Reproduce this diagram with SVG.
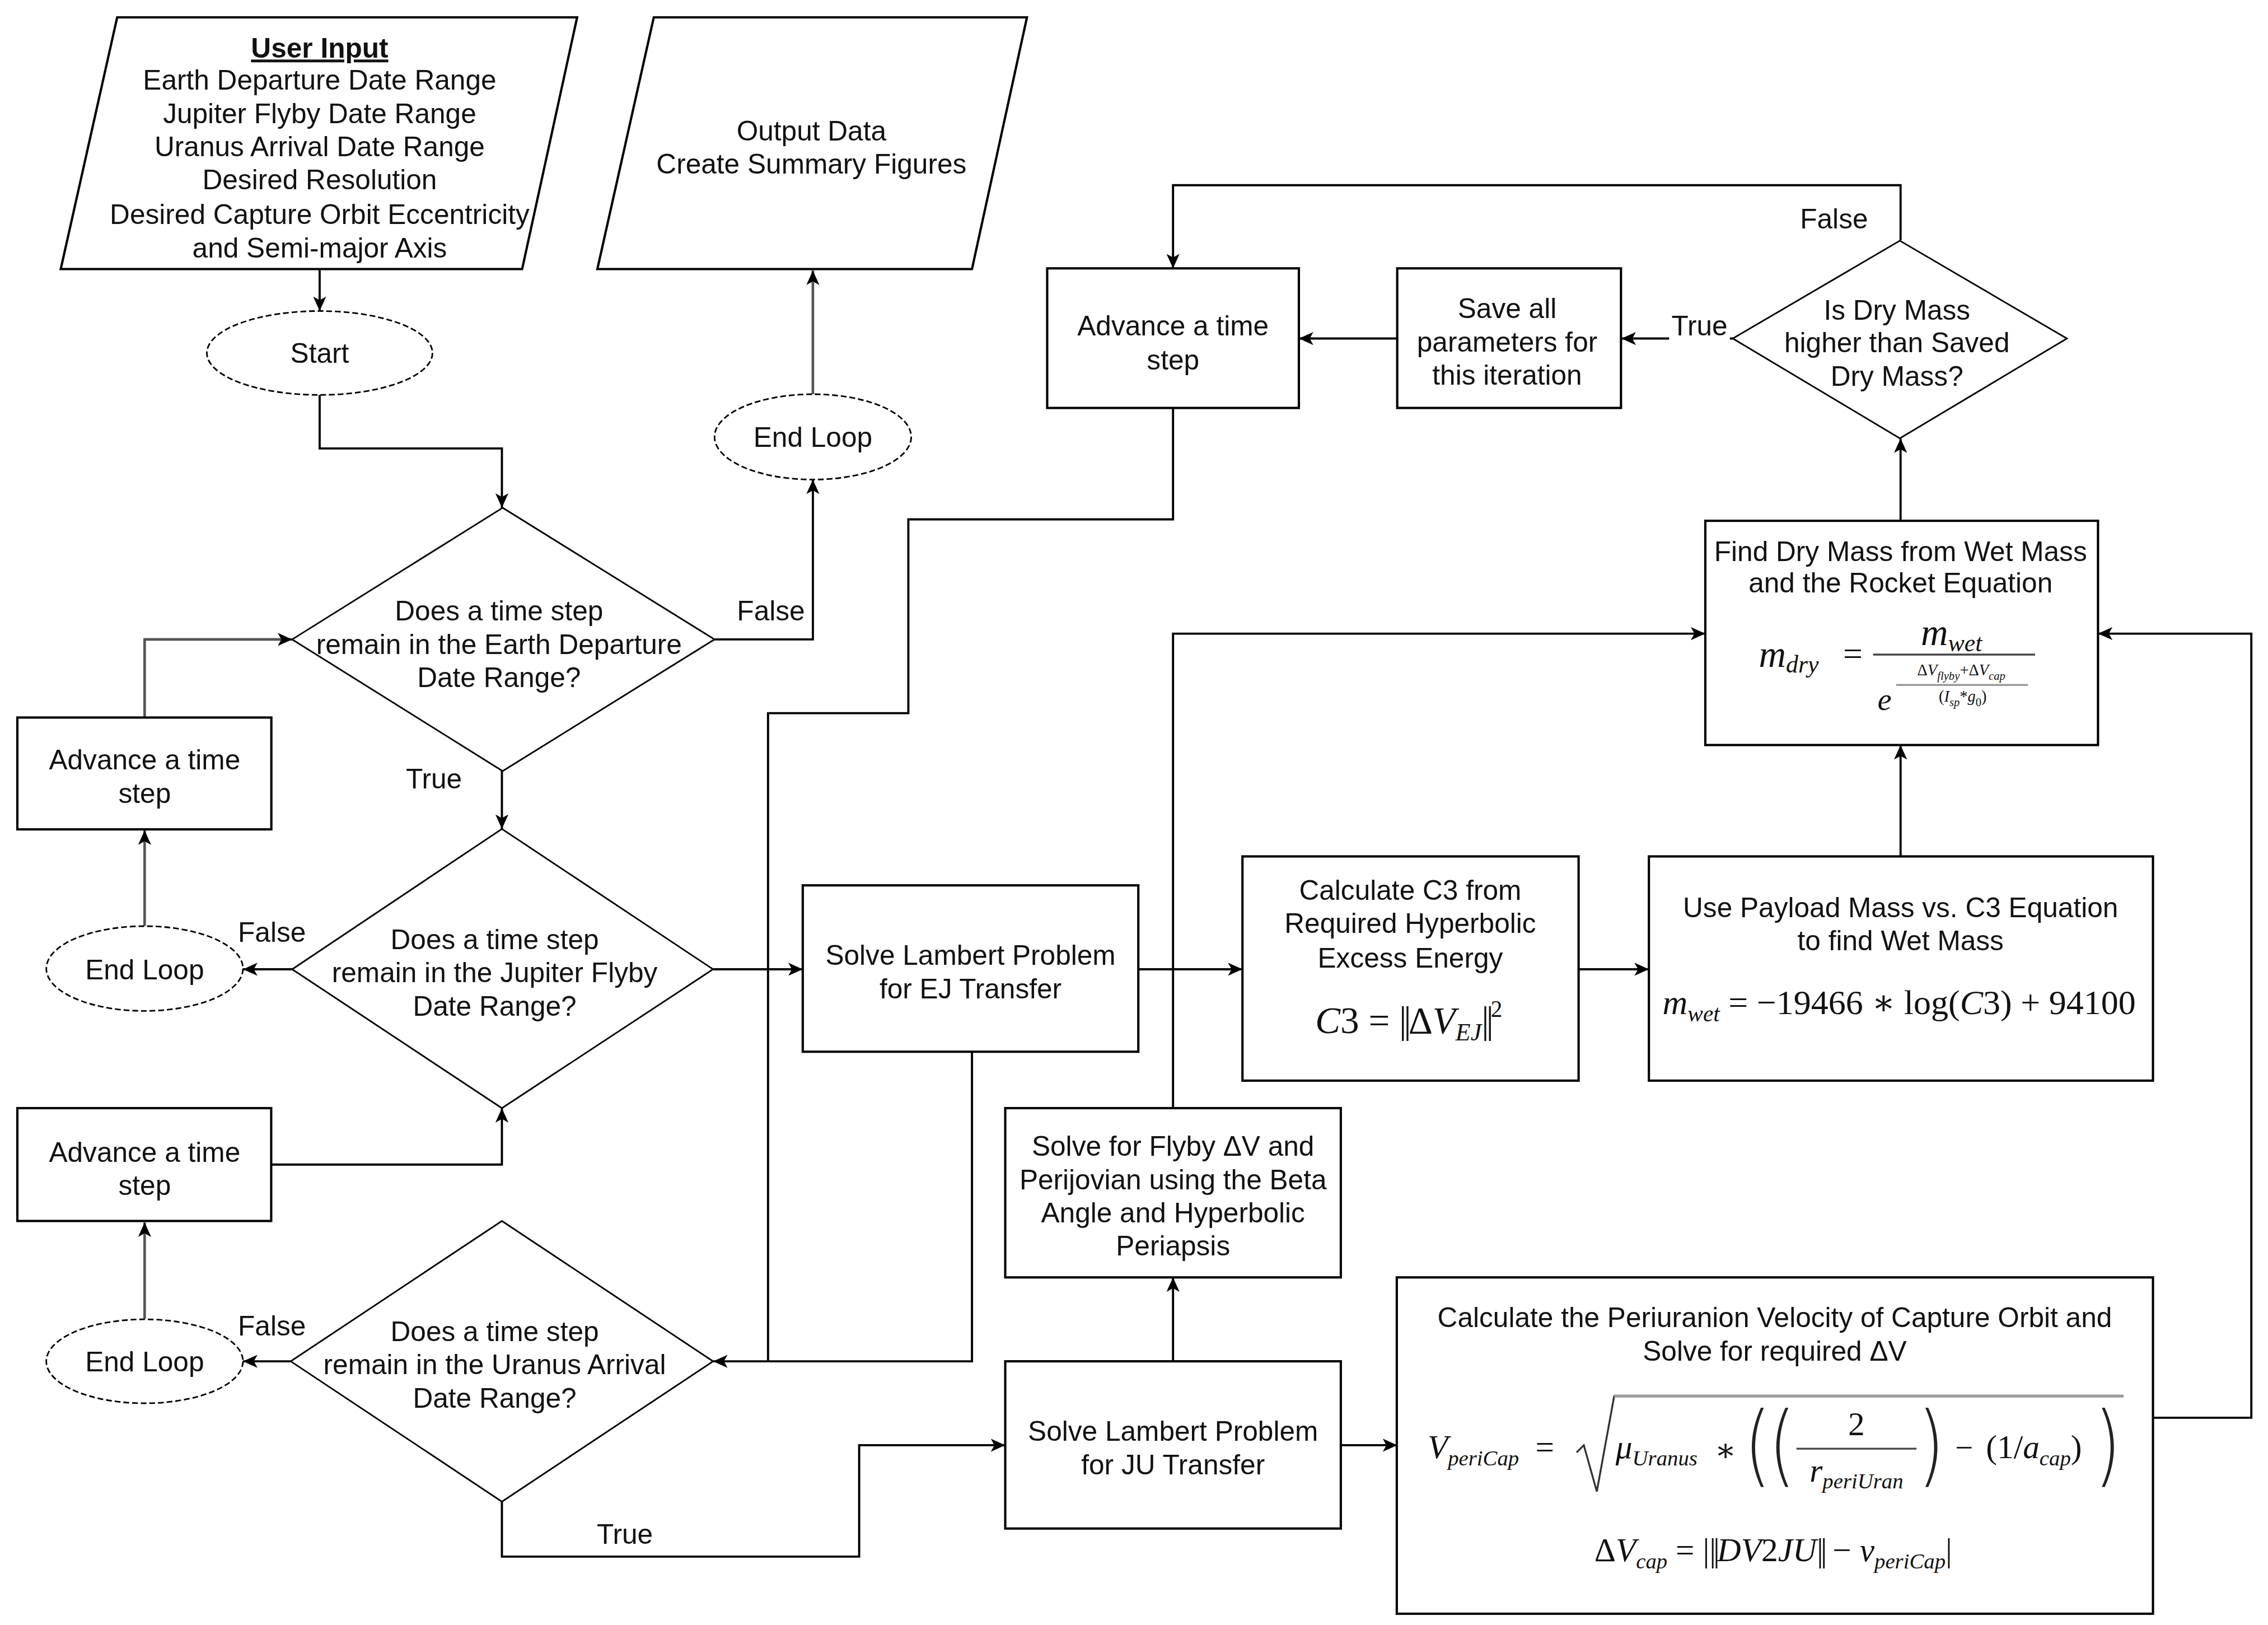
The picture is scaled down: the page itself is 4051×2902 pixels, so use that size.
<svg xmlns="http://www.w3.org/2000/svg" width="4051" height="2902" viewBox="0 0 4051 2902">
<style>
.box{fill:#fff;stroke:#000;stroke-width:1.6}
.dia{fill:#fff;stroke:#000;stroke-width:1.1}
.ell{fill:#fff;stroke:#000;stroke-width:1.1;stroke-dasharray:4 2}
.t{font-family:"Liberation Sans",Arial,sans-serif;font-size:19.2px;fill:#111;text-anchor:middle}
.m{font-family:"Liberation Serif","DejaVu Serif","Times New Roman",serif;fill:#111}
.i{font-style:italic}
.p{font-family:"DejaVu Sans",sans-serif;font-weight:200;font-size:36px;fill:#222}
.c{fill:none;stroke:#000;stroke-width:1.5}
.g{stroke:#555;stroke-width:1.8}
.bg{fill:#fff}
.bar{stroke:#444;stroke-width:1.3;fill:none}
</style>
<defs>
<marker id="a" viewBox="0 0 10 10" refX="10" refY="5" markerWidth="10" markerHeight="10" markerUnits="userSpaceOnUse" orient="auto">
<path d="M0,0.5 L10,5 L0,9.5 L2.5,5 Z" fill="#000"/>
</marker>
</defs>
<rect width="4051" height="2902" fill="#fff"/>
<g transform="scale(2.5835)">
<g id="connectors">
<path class="c" d="M221,186 L221,215" marker-end="url(#a)"/>
<path class="c" d="M221,273 L221,310 L347,310 L347,351" marker-end="url(#a)"/>
<path class="c" d="M494,442 L562,442 L562,331.5" marker-end="url(#a)"/>
<path class="c g" d="M562,272.5 L562,187" marker-end="url(#a)"/>
<path class="c" d="M347,533 L347,573" marker-end="url(#a)"/>
<path class="c" d="M202,670 L168,670" marker-end="url(#a)"/>
<path class="c g" d="M100,640 L100,574" marker-end="url(#a)"/>
<path class="c g" d="M100,496 L100,442 L202,442" marker-end="url(#a)"/>
<path class="c" d="M493,670 L555,670" marker-end="url(#a)"/>
<path class="c" d="M787,670 L859,670" marker-end="url(#a)"/>
<path class="c" d="M1091,670 L1140,670" marker-end="url(#a)"/>
<path class="c" d="M1314,592 L1314,515" marker-end="url(#a)"/>
<path class="c" d="M1314,360 L1314,303" marker-end="url(#a)"/>
<path class="c" d="M1198,234 L1121,234" marker-end="url(#a)"/>
<path class="c" d="M966,234 L898,234" marker-end="url(#a)"/>
<path class="c" d="M1314,166 L1314,128 L811,128 L811,185.5" marker-end="url(#a)"/>
<path class="c" d="M811,282 L811,359 L628,359 L628,493 L531,493 L531,941 L493,941" marker-end="url(#a)"/>
<path class="c" d="M672,727 L672,941 L531,941"/>
<path class="c" d="M201,941 L168,941" marker-end="url(#a)"/>
<path class="c g" d="M100,911.6 L100,845" marker-end="url(#a)"/>
<path class="c" d="M187.5,805 L347,805 L347,766" marker-end="url(#a)"/>
<path class="c" d="M347,1038 L347,1076 L594,1076 L594,999 L695,999" marker-end="url(#a)"/>
<path class="c" d="M811,941 L811,883" marker-end="url(#a)"/>
<path class="c" d="M811,766 L811,438 L1179,438" marker-end="url(#a)"/>
<path class="c" d="M927,999 L966,999" marker-end="url(#a)"/>
<path class="c" d="M1488.5,980 L1556.5,980 L1556.5,438 L1450.5,438" marker-end="url(#a)"/>
<rect class="bg" x="508" y="411" width="50" height="22"/><text class="t" x="533" y="429">False</text>
<rect class="bg" x="279" y="527" width="42" height="22"/><text class="t" x="300" y="545">True</text>
<rect class="bg" x="163" y="633" width="50" height="22"/><text class="t" x="188" y="651">False</text>
<rect class="bg" x="163" y="905" width="50" height="22"/><text class="t" x="188" y="923">False</text>
<rect class="bg" x="411" y="1049" width="42" height="22"/><text class="t" x="432" y="1067">True</text>
<rect class="bg" x="1154" y="214" width="42" height="22"/><text class="t" x="1175" y="232">True</text>
<rect class="bg" x="1243" y="140" width="50" height="22"/><text class="t" x="1268" y="158">False</text>
</g>
<g id="user-input">
<polygon class="box" points="81,12 399,12 361,186 42,186"/>
<text class="t" x="221" y="40" font-weight="bold" text-decoration="underline">User Input</text>
<text class="t" x="221" y="62">Earth Departure Date Range</text>
<text class="t" x="221" y="85">Jupiter Flyby Date Range</text>
<text class="t" x="221" y="108">Uranus Arrival Date Range</text>
<text class="t" x="221" y="131">Desired Resolution</text>
<text class="t" x="221" y="155">Desired Capture Orbit Eccentricity</text>
<text class="t" x="221" y="178">and Semi-major Axis</text>
</g>
<g id="output">
<polygon class="box" points="452,12 710,12 672,186 413,186"/>
<text class="t" x="561" y="97">Output Data</text>
<text class="t" x="561" y="120">Create Summary Figures</text>
</g>
<g id="start">
<ellipse class="ell" cx="221" cy="244" rx="78" ry="29"/>
<text class="t" x="221" y="251">Start</text>
</g>
<g id="end-loop-top">
<ellipse class="ell" cx="562" cy="302" rx="68" ry="29.5"/>
<text class="t" x="562" y="309">End Loop</text>
</g>
<g id="earth-decision">
<polygon class="dia" points="347.5,351 494,442 347.5,533 202,442"/>
<text class="t" x="345" y="429">Does a time step</text>
<text class="t" x="345" y="452">remain in the Earth Departure</text>
<text class="t" x="345" y="475">Date Range?</text>
</g>
<g id="advance-1">
<rect class="box" x="12" y="496" width="175.6" height="77.3"/>
<text class="t" x="100" y="532">Advance a time</text>
<text class="t" x="100" y="555">step</text>
</g>
<g id="jupiter-decision">
<polygon class="dia" points="347,573 493,670 347,766 202,670"/>
<text class="t" x="342" y="656">Does a time step</text>
<text class="t" x="342" y="679">remain in the Jupiter Flyby</text>
<text class="t" x="342" y="702">Date Range?</text>
</g>
<g id="end-loop-1">
<ellipse class="ell" cx="100" cy="669.5" rx="68" ry="29.3"/>
<text class="t" x="100" y="677">End Loop</text>
</g>
<g id="advance-2">
<rect class="box" x="12" y="766" width="175.5" height="78"/>
<text class="t" x="100" y="803">Advance a time</text>
<text class="t" x="100" y="826">step</text>
</g>
<g id="uranus-decision">
<polygon class="dia" points="347,844 493,941 347,1038 201,941"/>
<text class="t" x="342" y="927">Does a time step</text>
<text class="t" x="342" y="950">remain in the Uranus Arrival</text>
<text class="t" x="342" y="973">Date Range?</text>
</g>
<g id="end-loop-2">
<ellipse class="ell" cx="100" cy="941" rx="68" ry="29"/>
<text class="t" x="100" y="948">End Loop</text>
</g>
<g id="lambert-ej">
<rect class="box" x="555" y="612" width="232" height="115"/>
<text class="t" x="671" y="667">Solve Lambert Problem</text>
<text class="t" x="671" y="690">for EJ Transfer</text>
</g>
<g id="flyby">
<rect class="box" x="695" y="766" width="232" height="117"/>
<text class="t" x="811" y="799">Solve for Flyby ΔV and</text>
<text class="t" x="811" y="822">Perijovian using the Beta</text>
<text class="t" x="811" y="845">Angle and Hyperbolic</text>
<text class="t" x="811" y="868">Periapsis</text>
</g>
<g id="lambert-ju">
<rect class="box" x="695" y="941" width="232" height="115.6"/>
<text class="t" x="811" y="996">Solve Lambert Problem</text>
<text class="t" x="811" y="1019">for JU Transfer</text>
</g>
<g id="calc-c3">
<rect class="box" x="859" y="592" width="232.4" height="155"/>
<text class="t" x="975" y="622">Calculate C3 from</text>
<text class="t" x="975" y="645">Required Hyperbolic</text>
<text class="t" x="975" y="669">Excess Energy</text>
<text class="m" x="974" y="714" font-size="26" text-anchor="middle"><tspan class="i">C</tspan>3 = <tspan letter-spacing="-2">||</tspan>Δ<tspan class="i">V</tspan><tspan class="i" font-size="17" dy="5">EJ</tspan><tspan dy="-5" letter-spacing="-2">||</tspan><tspan font-size="16" dy="-11">2</tspan></text>
</g>
<g id="wet-mass">
<rect class="box" x="1140" y="592" width="348.5" height="155"/>
<text class="t" x="1314" y="634">Use Payload Mass vs. C3 Equation</text>
<text class="t" x="1314" y="657">to find Wet Mass</text>
<text class="m" x="1313" y="701" font-size="24" text-anchor="middle"><tspan class="i">m</tspan><tspan class="i" font-size="16" dy="5">wet</tspan><tspan dy="-5"> = −19466 ∗ log(</tspan><tspan class="i">C</tspan>3) + 94100</text>
</g>
<g id="dry-mass">
<rect class="box" x="1179" y="360" width="271.5" height="155"/>
<text class="t" x="1314" y="388">Find Dry Mass from Wet Mass</text>
<text class="t" x="1314" y="409.5">and the Rocket Equation</text>
<text class="m i" x="1216" y="461" font-size="26">m<tspan font-size="17" dy="4">dry</tspan></text>
<text class="m" x="1281" y="460" font-size="24" text-anchor="middle">=</text>
<line class="bar" x1="1295" y1="452.5" x2="1407" y2="452.5"/>
<text class="m i" x="1328" y="446" font-size="26">m<tspan font-size="17" dy="4">wet</tspan></text>
<text class="m i" x="1298" y="491" font-size="22">e</text>
<line x1="1311" y1="473.5" x2="1402" y2="473.5" stroke="#999" stroke-width="1.3"/>
<text class="m" x="1356" y="467" font-size="11" text-anchor="middle">Δ<tspan class="i">V</tspan><tspan class="i" font-size="8" dy="3">flyby</tspan><tspan dy="-3">+Δ</tspan><tspan class="i">V</tspan><tspan class="i" font-size="8" dy="3">cap</tspan></text>
<text class="m" x="1357" y="485" font-size="11" text-anchor="middle">(<tspan class="i">I</tspan><tspan class="i" font-size="8" dy="3">sp</tspan><tspan dy="-3">*</tspan><tspan class="i">g</tspan><tspan font-size="8" dy="3">0</tspan><tspan dy="-3">)</tspan></text>
</g>
<g id="dry-decision">
<polygon class="dia" points="1313.5,166.4 1429,234 1313.5,303 1198,234"/>
<text class="t" x="1311.5" y="221">Is Dry Mass</text>
<text class="t" x="1311.5" y="243.5">higher than Saved</text>
<text class="t" x="1311.5" y="266.5">Dry Mass?</text>
</g>
<g id="save-params">
<rect class="box" x="966" y="185.5" width="154.7" height="96.5"/>
<text class="t" x="1042" y="220">Save all</text>
<text class="t" x="1042" y="243">parameters for</text>
<text class="t" x="1042" y="266">this iteration</text>
</g>
<g id="advance-3">
<rect class="box" x="724" y="185.5" width="174" height="96.5"/>
<text class="t" x="811" y="232">Advance a time</text>
<text class="t" x="811" y="255.5">step</text>
</g>
<g id="periuranion">
<rect class="box" x="965.7" y="883" width="522.8" height="232.5"/>
<text class="t" x="1227" y="917.5">Calculate the Periuranion Velocity of Capture Orbit and</text>
<text class="t" x="1227" y="940.5">Solve for required ΔV</text>
<text class="m i" x="987" y="1008" font-size="23">V<tspan font-size="15" dy="5">periCap</tspan></text>
<text class="m" x="1068" y="1008" font-size="23" text-anchor="middle">=</text>
<path d="M1090,1004 L1095,999 L1104,1031 L1116,965 L1468,965" fill="none" stroke="#333" stroke-width="1.3"/>
<line x1="1116" y1="965" x2="1468" y2="965" stroke="#999" stroke-width="2"/>
<text class="m i" x="1117" y="1008" font-size="23">μ<tspan font-size="15" dy="5">Uranus</tspan></text>
<text class="m" x="1193" y="1010" font-size="22" text-anchor="middle">∗</text>
<text class="p" transform="translate(1206,1020) scale(1.3,1.7)">(</text>
<text class="p" transform="translate(1223,1020) scale(1.3,1.7)">(</text>
<text class="m" x="1283.5" y="992" font-size="23" text-anchor="middle">2</text>
<line class="bar" x1="1242" y1="1001.4" x2="1325" y2="1001.4"/>
<text class="m i" x="1283.5" y="1024" font-size="23" text-anchor="middle">r<tspan font-size="15" dy="5">periUran</tspan></text>
<text class="p" transform="translate(1326,1020) scale(1.3,1.7)">)</text>
<text class="m" x="1358" y="1008" font-size="22" text-anchor="middle">−</text>
<text class="m" x="1373" y="1008" font-size="23">(1/<tspan class="i">a</tspan><tspan class="i" font-size="15" dy="5">cap</tspan><tspan dy="-5">)</tspan></text>
<text class="p" transform="translate(1448,1020) scale(1.3,1.7)">)</text>
<text class="m" x="1226" y="1079" font-size="23" text-anchor="middle">Δ<tspan class="i">V</tspan><tspan class="i" font-size="15" dy="5">cap</tspan><tspan dy="-5"> = |</tspan><tspan letter-spacing="-2">||</tspan><tspan class="i">DV</tspan>2<tspan class="i">JU</tspan><tspan letter-spacing="-2">||</tspan> − <tspan class="i">v</tspan><tspan class="i" font-size="15" dy="5">periCap</tspan><tspan dy="-5">|</tspan></text>
</g>
</g>
</svg>
